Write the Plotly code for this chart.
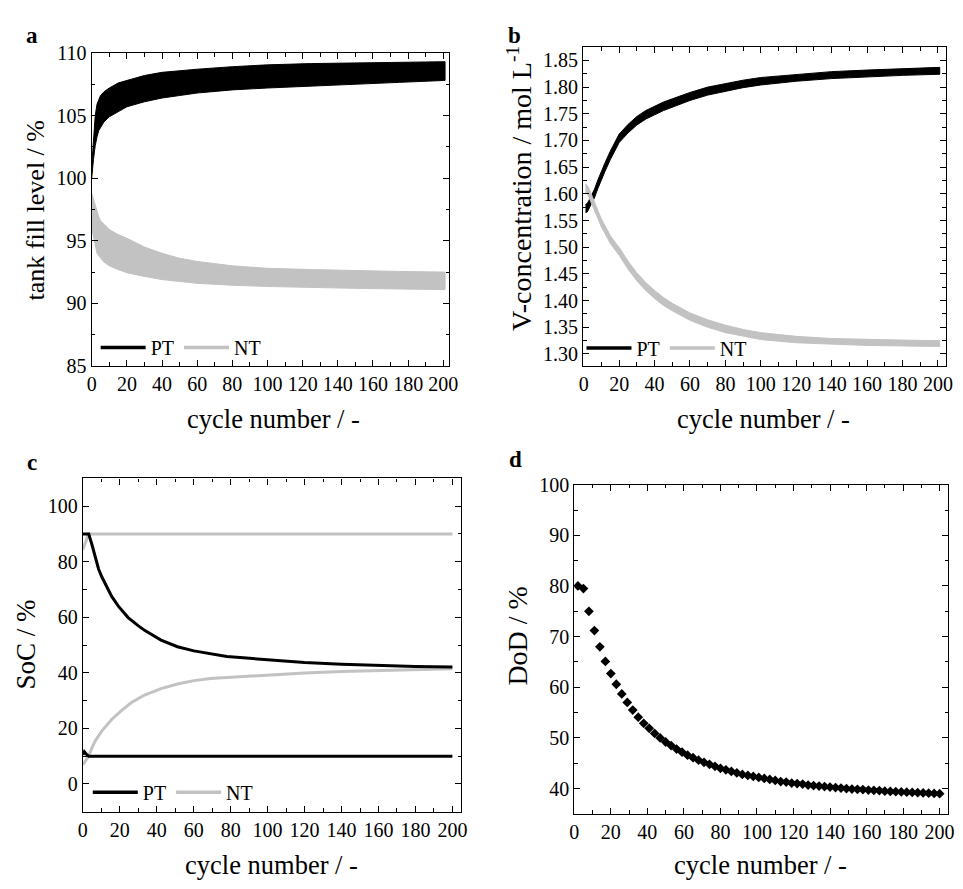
import plotly.graph_objects as go

# ---------------- data ----------------
# Panel a: tank fill level band (envelope of the per-cycle oscillation)
a_cycle = [0, 1, 2, 3, 4, 5, 7, 10, 15, 20, 30, 40, 50, 60, 80, 100, 125, 150, 175, 200, 201]
a_pt_upper = [101.0, 103.5, 105.0, 105.9, 106.3, 106.6, 106.9, 107.2, 107.6, 107.8, 108.2, 108.45,
              108.6, 108.7, 108.9, 109.05, 109.15, 109.2, 109.25, 109.3, 109.3]
a_pt_lower = [100.0, 101.5, 102.6, 103.3, 103.8, 104.1, 104.5, 104.9, 105.3, 105.7, 106.1, 106.4,
              106.6, 106.8, 107.05, 107.2, 107.4, 107.5, 107.65, 107.8, 107.8]
a_nt_upper = [98.8, 98.3, 97.8, 97.3, 96.9, 96.6, 96.3, 95.9, 95.5, 95.2, 94.5, 94.0,
              93.6, 93.35, 93.0, 92.8, 92.7, 92.6, 92.55, 92.5, 92.5]
a_nt_lower = [96.0, 95.3, 94.6, 94.0, 93.8, 93.6, 93.3, 93.0, 92.7, 92.45, 92.15, 91.9,
              91.75, 91.6, 91.45, 91.35, 91.25, 91.2, 91.15, 91.1, 91.1]

# Panel b: V-concentration band
b_cycle = [1, 2, 3, 4, 5, 6, 8, 10, 12, 15, 18, 20, 25, 30, 35, 40, 45, 50, 60, 70, 80, 90,
           100, 120, 140, 160, 180, 200, 201]
b_pt_upper = [1.580, 1.582, 1.588, 1.594, 1.600, 1.608, 1.626, 1.644, 1.658, 1.680, 1.700, 1.712,
              1.730, 1.745, 1.756, 1.764, 1.772, 1.778, 1.790, 1.800, 1.807, 1.813,
              1.818, 1.824, 1.829, 1.832, 1.835, 1.837, 1.837]
b_pt_lower = [1.565, 1.566, 1.572, 1.578, 1.585, 1.592, 1.610, 1.627, 1.642, 1.664, 1.684, 1.696,
              1.714, 1.729, 1.740, 1.748, 1.756, 1.763, 1.775, 1.785, 1.792, 1.799,
              1.804, 1.811, 1.816, 1.819, 1.822, 1.824, 1.824]
b_nt_upper = [1.618, 1.616, 1.610, 1.601, 1.592, 1.585, 1.569, 1.553, 1.541, 1.522, 1.508, 1.500,
              1.474, 1.452, 1.434, 1.419, 1.406, 1.395, 1.377, 1.364, 1.354, 1.346,
              1.340, 1.333, 1.329, 1.327, 1.326, 1.325, 1.325]
b_nt_lower = [1.602, 1.601, 1.595, 1.586, 1.577, 1.570, 1.554, 1.538, 1.526, 1.507, 1.493, 1.485,
              1.459, 1.437, 1.419, 1.404, 1.391, 1.381, 1.363, 1.350, 1.340, 1.333,
              1.327, 1.321, 1.318, 1.316, 1.315, 1.314, 1.314]

# Panel c: state of charge limits
c_cycle_pt_max = [0, 2, 3.2, 4.9, 6.8, 8.5, 10.3, 12.1, 15.6, 19.2, 24.5, 29.9, 33.4, 42.3, 51.2,
                  60.1, 69, 77.9, 86.8, 95.6, 104.5, 120, 140, 160, 180, 200]
c_pt_max = [90.0, 90.0, 90.0, 86.2, 81.5, 77.4, 74.5, 71.9, 67.5, 64.0, 59.9, 57.0, 55.3, 51.8,
            49.4, 47.9, 46.8, 45.9, 45.4, 44.9, 44.5, 43.7, 43.1, 42.6, 42.3, 42.1]
c_cycle_pt_min = [0, 0.8, 2, 3.2, 200]
c_pt_min = [10.5, 11.6, 10.6, 10.0, 10.0]
c_cycle_nt_max = [0, 1, 2, 2.9, 200]
c_nt_max = [84.4, 86.0, 88.0, 90.0, 90.0]
c_cycle_nt_min = [0, 1, 2, 3.2, 4.9, 6.8, 10.3, 15.6, 21, 26.3, 33.4, 42.3, 51.2, 60.1, 69,
                  86.8, 104.5, 120, 140, 160, 180, 200]
c_nt_min = [6.9, 7.8, 8.9, 10.0, 13.0, 15.6, 19.1, 23.2, 26.5, 29.3, 32.0, 34.3, 36.0, 37.2,
            38.0, 38.7, 39.2, 39.9, 40.5, 40.9, 41.2, 41.5]

# Panel d: depth of discharge (every third cycle)
d_cycle = list(range(2, 201, 3))
d_dod = [80.0, 79.5, 75.0, 71.2, 68.0, 65.1, 62.7, 60.6, 58.7, 57.0, 55.5, 54.1, 52.9, 51.9,
         50.9, 50.0, 49.2, 48.5, 47.8, 47.2, 46.6, 46.1, 45.6, 45.2, 44.8, 44.4, 44.0, 43.7,
         43.4, 43.1, 42.8, 42.6, 42.4, 42.2, 42.0, 41.8, 41.6, 41.4, 41.3, 41.1, 41.0, 40.9,
         40.7, 40.6, 40.5, 40.4, 40.3, 40.2, 40.1, 40.0, 39.9, 39.85, 39.8, 39.7, 39.65, 39.6,
         39.5, 39.45, 39.4, 39.35, 39.3, 39.25, 39.2, 39.15, 39.1, 39.05, 39.0]

series_names = ["PT", "NT"]
BLACK = "#000000"
GRAY = "#c2c2c2"
FONT = "Liberation Serif"

fig = go.Figure()


def band(x, upper, lower, color, xa, ya):
    fig.add_trace(go.Scatter(
        x=x + x[::-1], y=upper + lower[::-1], mode="lines", fill="toself",
        fillcolor=color, line=dict(color=color, width=1), showlegend=False,
        hoverinfo="skip", xaxis=xa, yaxis=ya))


def legend_entries(leg, xa, ya):
    for name, col in zip(series_names, [BLACK, GRAY]):
        fig.add_trace(go.Scatter(x=[None], y=[None], mode="lines", name=name,
                                 line=dict(color=col, width=3.5), legend=leg,
                                 xaxis=xa, yaxis=ya))


# a
band(a_cycle, a_pt_upper, a_pt_lower, BLACK, "x", "y")
band(a_cycle, a_nt_upper, a_nt_lower, GRAY, "x", "y")
legend_entries("legend", "x", "y")

# b
band(b_cycle, b_pt_upper, b_pt_lower, BLACK, "x2", "y2")
band(b_cycle, b_nt_upper, b_nt_lower, GRAY, "x2", "y2")
legend_entries("legend2", "x2", "y2")

# c
for xs, ys, col in [(c_cycle_nt_max, c_nt_max, GRAY), (c_cycle_nt_min, c_nt_min, GRAY),
                    (c_cycle_pt_max, c_pt_max, BLACK), (c_cycle_pt_min, c_pt_min, BLACK)]:
    fig.add_trace(go.Scatter(x=xs, y=ys, mode="lines", line=dict(color=col, width=3),
                             showlegend=False, xaxis="x3", yaxis="y3"))
legend_entries("legend3", "x3", "y3")

# d
fig.add_trace(go.Scatter(x=d_cycle, y=d_dod, mode="markers",
                         marker=dict(symbol="diamond", size=7.5, color=BLACK),
                         showlegend=False, xaxis="x4", yaxis="y4"))

W, H = 963, 889


def px_dom(a, b, total):
    return [a / total, b / total]


def ydom(top, bottom):
    return [1 - bottom / H, 1 - top / H]


def axis(dom, anchor, rng, dtick, minor_dtick, tick0=0):
    return dict(domain=dom, anchor=anchor, range=rng, showline=True, linecolor="black",
                linewidth=1.3, mirror="allticks", ticks="inside", ticklen=6, tickwidth=1.2,
                tickcolor="black", dtick=dtick, tick0=tick0, showgrid=False, zeroline=False,
                tickfont=dict(family=FONT, size=20, color="black"),
                minor=dict(ticks="inside", ticklen=3.5, tickwidth=1.2, tickcolor="black",
                           dtick=minor_dtick, tick0=tick0, showgrid=False))


xdomA = px_dom(88, 451, W)
xdomB = px_dom(586.7, 955, W)
xdomC = px_dom(79, 463, W)
xdomD = px_dom(577.7, 957.3, W)

fig.update_layout(
    width=W, height=H, margin=dict(l=0, r=0, t=0, b=0),
    paper_bgcolor="white", plot_bgcolor="white",
    font=dict(family=FONT, color="black"),
    xaxis=axis(xdomA, "y", [0, 203.5], 20, 10),
    yaxis=axis(ydom(43, 364), "x", [85, 110], 5, 2.5),
    xaxis2=axis(xdomB, "y2", [-0.3, 204.6], 20, 10),
    yaxis2=axis(ydom(37, 364), "x2", [1.2775, 1.875], 0.05, 0.025, tick0=1.3),
    xaxis3=axis(xdomC, "y3", [0, 204.8], 20, 10),
    yaxis3=axis(ydom(479.3, 821), "x3", [-10, 110], 20, 10),
    xaxis4=axis(xdomD, "y4", [0, 204.8], 20, 10),
    yaxis4=axis(ydom(485.7, 823.3), "x4", [35, 100], 10, 5),
)
fig.update_layout(yaxis2=dict(tickformat=".2f"))

leg_common = dict(orientation="h", xanchor="left", yanchor="middle", bgcolor="rgba(0,0,0,0)",
                  font=dict(family=FONT, size=20, color="black"), itemwidth=45,
                  tracegroupgap=0, itemclick=False)
fig.update_layout(
    legend=dict(x=92 / W, y=1 - 345 / H, **leg_common),
    legend2=dict(x=585 / W, y=1 - 345.5 / H, **leg_common),
    legend3=dict(x=84 / W, y=1 - 801 / H, **leg_common),
)

ann = []


def text(x, y, s, size=26.5, angle=0, bold=False):
    ann.append(dict(x=x / W, y=1 - y / H, xref="paper", yref="paper", text=("<b>%s</b>" % s) if bold else s,
                    showarrow=False, textangle=angle, xanchor="center", yanchor="middle",
                    font=dict(family=FONT, size=size, color="black")))


text(27, 25, "a", 23, bold=True)
text(517, 25, "b", 23, bold=True)
text(27, 463, "c", 23, bold=True)
text(518, 460, "d", 23, bold=True)
text(272, 418, "cycle number / -")
text(770, 418, "cycle number / -")
text(270, 876, "cycle number / -")
text(767, 876, "cycle number / -")
text(31, 204, "tank fill level / %", size=26, angle=-90)
text(522, 182, "V-concentration / mol L<sup>-1</sup>", size=28, angle=-90)
text(21, 650, "SoC / %", size=27, angle=-90)
text(520, 640, "DoD / %", size=28, angle=-90)
fig.update_layout(annotations=ann)

fig.write_html("out.html")
